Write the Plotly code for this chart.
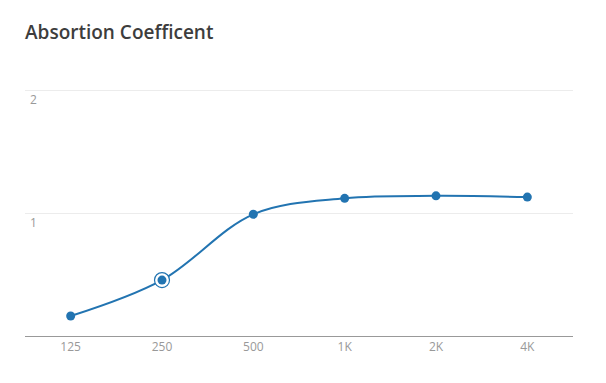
import plotly.graph_objects as go

categories = ["125", "250", "500", "1K", "2K", "4K"]
values = [0.163, 0.455, 0.99, 1.12, 1.14, 1.13]
highlight_index = 1
y_tickvals = [1, 2]
y_ticktext = ["1", "2"]
title_text = "Absortion Coefficent"

color = "#2274b1"
# the page body has an 8px default margin, so the figure is drawn at (8, 8)
W, H = 598, 375

fig = go.Figure()
fig.add_trace(go.Scatter(
    x=categories, y=values, mode="lines+markers",
    line=dict(color=color, width=2, shape="spline", smoothing=1.0),
    marker=dict(color=color, size=9),
    hoverinfo="skip", showlegend=False, cliponaxis=False,
))
fig.add_trace(go.Scatter(
    x=[categories[highlight_index]], y=[values[highlight_index]], mode="markers",
    marker=dict(color="white", size=15, line=dict(color=color, width=1.2)),
    hoverinfo="skip", showlegend=False,
))
fig.add_trace(go.Scatter(
    x=[categories[highlight_index]], y=[values[highlight_index]], mode="markers",
    marker=dict(color=color, size=9),
    hoverinfo="skip", showlegend=False,
))

fig.update_layout(
    width=W, height=H,
    margin=dict(l=17, r=33, t=76, b=47),
    paper_bgcolor="white", plot_bgcolor="white",
    font=dict(family="Open Sans, sans-serif", color="#999", size=12),
    title=dict(text=title_text, xref="container", x=17/W, xanchor="left",
               yref="container", y=1-24/H, yanchor="middle",
               font=dict(family="Open Sans, sans-serif", size=19, color="#3d3d3d", weight=600)),
    xaxis=dict(
        type="category", range=[-0.5, 5.5], showgrid=False,
        showline=True, linecolor="#999", linewidth=1, automargin=False,
        ticks="", tickfont=dict(size=12, color="#999"), fixedrange=True,
    ),
    yaxis=dict(
        range=[0, 2.05], tickvals=y_tickvals, ticktext=y_ticktext,
        showgrid=True, gridcolor="#ececec", gridwidth=1, zeroline=False,
        showline=False, ticklabelposition="inside", ticklabelshift=10,
        ticklabelstandoff=2, automargin=False,
        tickfont=dict(size=12, color="#999"), fixedrange=True,
    ),
)

fig.write_html("out.html")
